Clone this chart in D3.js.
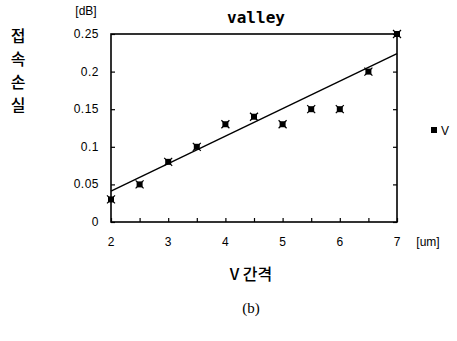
<!DOCTYPE html>
<html>
<head>
<meta charset="utf-8">
<script src="https://cdn.jsdelivr.net/npm/d3@7"></script>
<style>
  body { margin: 0; background: #fff; }
  text { fill: #000; }
</style>
</head>
<body>
<div id="chart"></div>
<script>
// V 간격 [um] vs 접속손실 [dB]
var gaps = [2, 2.5, 3, 3.5, 4, 4.5, 5, 5.5, 6, 6.5, 7];
var losses = [0.03, 0.05, 0.08, 0.10, 0.13, 0.14, 0.13, 0.15, 0.15, 0.20, 0.25];
// trend line ends
var trendX = [2, 7];
var trendY = [0.041, 0.224];
var xTicks = [2, 3, 4, 5, 6, 7];
var yTicks = [0, 0.05, 0.1, 0.15, 0.2, 0.25];
var yLabelChars = ["접", "속", "손", "실"];

var SANS = "Liberation Sans, DejaVu Sans, sans-serif";
var KO = "Noto Sans CJK KR, sans-serif";

var W = 457, H = 341;
var margin = { top: 34, right: 60, bottom: 119, left: 111 };
var width = 397 - margin.left;
var height = 222 - margin.top;

var svg = d3.select("#chart").append("svg")
    .attr("width", W)
    .attr("height", H)
    .style("font-family", SANS);

var g = svg.append("g").attr("transform", `translate(${margin.left},${margin.top})`);

var xScale = d3.scaleLinear().domain([2, 7]).range([0, width]);
var yScale = d3.scaleLinear().domain([0, 0.25]).range([height, 0]);

// frame
g.append("rect")
    .attr("width", width).attr("height", height)
    .attr("fill", "none").attr("stroke", "#000").attr("stroke-width", 1.6);

// inward ticks, no labels on the right
g.append("g")
    .call(d3.axisLeft(yScale).tickValues(yTicks).tickSize(-4).tickFormat(""))
    .call(s => s.select(".domain").remove());
g.append("g").attr("transform", `translate(${width},0)`)
    .call(d3.axisRight(yScale).tickValues(yTicks).tickSize(-4).tickFormat(""))
    .call(s => s.select(".domain").remove());
g.append("g").attr("transform", `translate(0,${height})`)
    .call(d3.axisBottom(xScale).tickValues(d3.range(2, 7.01, 0.5)).tickSize(-4).tickFormat(""))
    .call(s => s.select(".domain").remove());
g.selectAll(".tick line").attr("stroke", "#000").attr("stroke-width", 1.2);

// tick labels
g.append("g").selectAll("text")
    .data(yTicks)
    .enter()
    .append("text")
    .attr("x", -12)
    .attr("y", d => yScale(d) + 4)
    .attr("text-anchor", "end")
    .style("font-size", "12px")
    .style("letter-spacing", "0.5px")
    .text(d => d);

g.append("g").selectAll("text")
    .data(xTicks)
    .enter()
    .append("text")
    .attr("x", d => xScale(d))
    .attr("y", height + 24)
    .attr("text-anchor", "middle")
    .style("font-size", "12px")
    .text(d => d);

// trend line
var line = d3.line()
    .x(d => xScale(d[0]))
    .y(d => yScale(d[1]));
g.append("path")
    .attr("d", line(trendX.map((x, i) => [x, trendY[i]])))
    .attr("fill", "none").attr("stroke", "#000").attr("stroke-width", 1.4);

// markers
function marker(sel, size) {
    sel.append("rect")
        .attr("x", -size / 2).attr("y", -size / 2)
        .attr("width", size).attr("height", size)
        .attr("fill", "#000");
    sel.append("path")
        .attr("d", `M${-size / 2 - 1},${-size / 2 - 1}L${size / 2 + 1},${size / 2 + 1}M${size / 2 + 1},${-size / 2 - 1}L${-size / 2 - 1},${size / 2 + 1}`)
        .attr("stroke", "#000").attr("stroke-width", 1.2);
}
g.append("g").selectAll("g")
    .data(gaps)
    .enter()
    .append("g")
    .attr("transform", (d, i) => `translate(${xScale(d)},${yScale(losses[i])})`)
    .call(marker, 6);

// titles
svg.append("text")
    .attr("x", 256).attr("y", 23)
    .attr("text-anchor", "middle")
    .style("font-family", "DejaVu Sans Mono, monospace")
    .style("font-size", "16px")
    .style("font-weight", "bold")
    .text("valley");

svg.append("text")
    .attr("x", 86).attr("y", 15)
    .attr("text-anchor", "middle")
    .style("font-size", "12px")
    .text("[dB]");

svg.append("text")
    .attr("x", 428).attr("y", 246)
    .attr("text-anchor", "middle")
    .style("font-size", "12px")
    .text("[um]");

svg.append("g").selectAll("text")
    .data(yLabelChars)
    .enter()
    .append("text")
    .attr("x", 18)
    .attr("y", (d, i) => 42 + i * 23)
    .attr("text-anchor", "middle")
    .style("font-family", KO)
    .style("font-size", "16px")
    .style("font-weight", "500")
    .text(d => d);

svg.append("text")
    .attr("x", 251).attr("y", 280)
    .attr("text-anchor", "middle")
    .style("font-family", KO)
    .style("font-size", "16px")
    .style("font-weight", "500")
    .text("V 간격");

svg.append("text")
    .attr("x", 251).attr("y", 313)
    .attr("text-anchor", "middle")
    .style("font-family", "Liberation Serif, serif")
    .style("font-size", "15px")
    .text("(b)");

// legend
var leg = svg.append("g").attr("transform", "translate(434,130)");
leg.append("rect").attr("x", -3).attr("y", -3).attr("width", 6).attr("height", 6).attr("fill", "#000");
leg.append("text").attr("x", 7).attr("y", 5).style("font-size", "12px").text("V");
</script>
</body>
</html>
